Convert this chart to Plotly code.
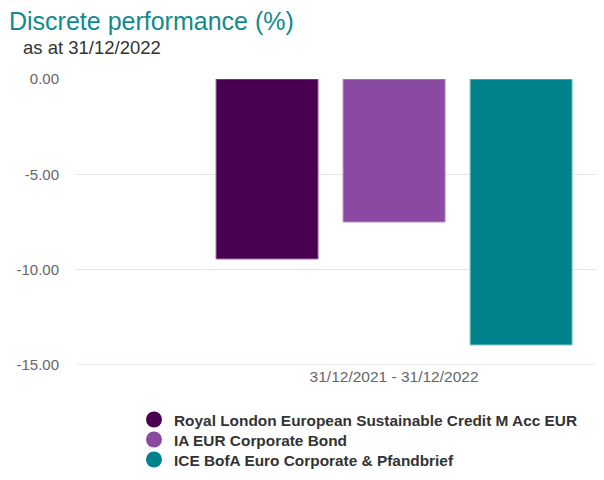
import plotly.graph_objects as go

categories = ["31/12/2021 - 31/12/2022"]
series_names = [
    "Royal London European Sustainable Credit M Acc EUR",
    "IA EUR Corporate Bond",
    "ICE BofA Euro Corporate & Pfandbrief",
]
fund_values = [-9.44]
sector_values = [-7.50]
index_values = [-13.95]
colors = ["#4a0050", "#8a4aa2", "#00828a"]
edge_colors = ["#9a6aa8", "#b88ac8", "#7cc4c8"]
y_ticks = [0, -5, -10, -15]
y_tick_labels = ["0.00", "-5.00", "-10.00", "-15.00"]

font = "Liberation Sans, Arial, sans-serif"
W, H = 596, 472
legend_ids = ["legend", "legend2", "legend3"]
legend_centers = [412, 432, 452]  # figure pixels

fig = go.Figure()
for name, vals, c, ec in zip(series_names, [fund_values, sector_values, index_values], colors, edge_colors):
    fig.add_trace(go.Bar(x=categories, y=vals, name=name, marker=dict(color=c, line=dict(color=ec, width=1)),
                         showlegend=False))
legend_layout = {}
for name, c, lid, cy in zip(series_names, colors, legend_ids, legend_centers):
    fig.add_trace(go.Scatter(x=[None], y=[None], mode="markers", name=name, legend=lid,
                             marker=dict(symbol="circle", size=16, color=c)))
    legend_layout[lid] = dict(x=126/W, y=1 - cy/H, xref="container", yref="container",
                              xanchor="left", yanchor="middle", orientation="h",
                              font=dict(family=font, size=15.4, color="#333333", weight="bold"),
                              itemsizing="trace", bgcolor="rgba(0,0,0,0)")

fig.update_layout(
    width=W, height=H,
    margin=dict(l=68, r=0, t=71, b=115),
    paper_bgcolor="white", plot_bgcolor="white",
    barmode="group", bargap=0.401, bargroupgap=0.197,
    font=dict(family=font, color="#666666", size=15),
    title=dict(text="Discrete performance (%)", x=1/W, xanchor="left", xref="container",
               y=1 - 4/H, yanchor="top", yref="container", pad=dict(t=0, l=0),
               font=dict(family=font, size=25, color="#11898e")),
    annotations=[dict(text="as at 31/12/2022", xref="paper", yref="paper", x=-55/528, y=1 + (71-39)/286,
                      xanchor="left", yanchor="middle", showarrow=False,
                      font=dict(family=font, size=18.5, color="#333333"))],
    xaxis=dict(type="category", range=[-0.5, 0.33], showgrid=False, showline=False, ticks="",
               tickfont=dict(size=15.5, color="#666666")),
    yaxis=dict(range=[-15, 0], tickvals=y_ticks, ticktext=y_tick_labels, showgrid=True,
               gridcolor="#e6e6e6", gridwidth=1, zeroline=False, showline=False, ticks="",
               ticklabelstandoff=16, tickfont=dict(size=15, color="#666666")),
    shapes=[dict(type="line", xref="paper", yref="y", x0=0, x1=1, y0=-15, y1=-15,
                 line=dict(color="#ccd6eb", width=1), layer="below")],
    **legend_layout,
)
fig.write_html("out.html")
